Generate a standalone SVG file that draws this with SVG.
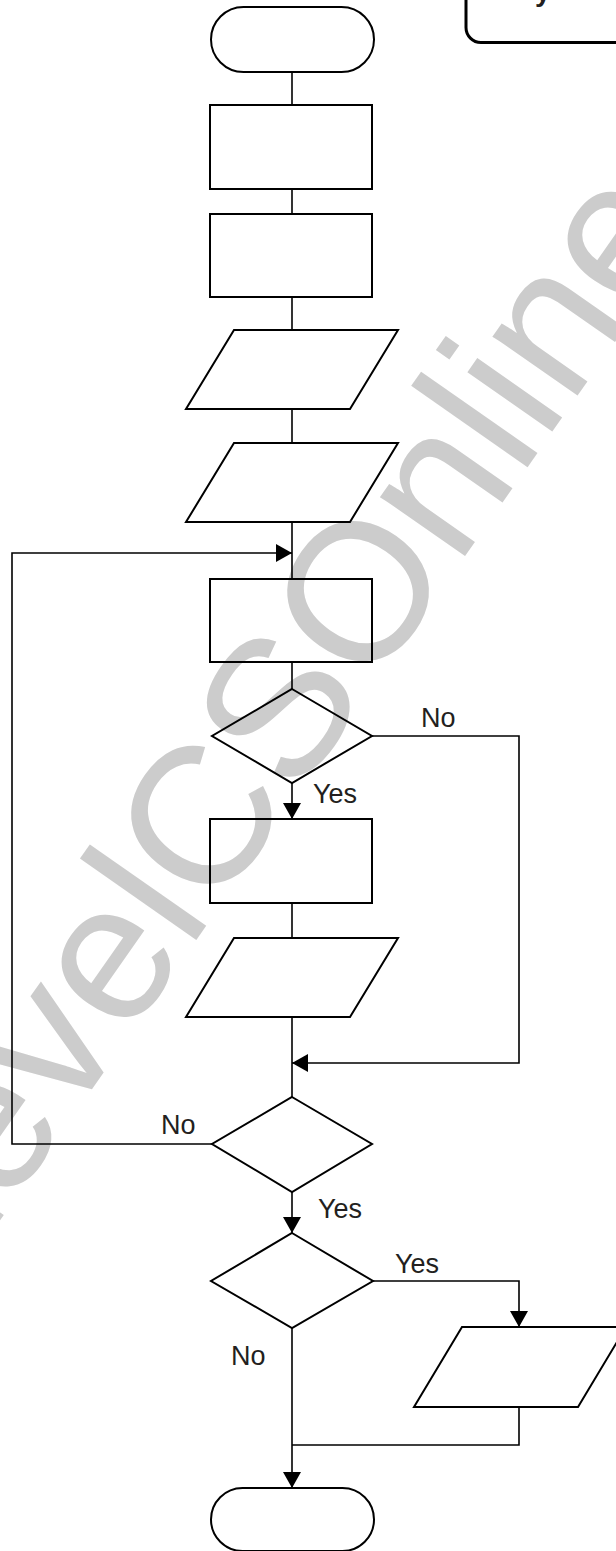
<svg xmlns="http://www.w3.org/2000/svg" width="616" height="1551" viewBox="0 0 616 1551">
<style>
.wm{font-family:"Liberation Sans",Arial,sans-serif;font-size:196px;fill:#cccccc}
.shape{fill:none;stroke:#000;stroke-width:2}
.conn{fill:none;stroke:#000;stroke-width:1.6}
.lbl{font-family:"Liberation Sans",Arial,sans-serif;font-size:27px;fill:#231f20}
.key{fill:none;stroke:#000;stroke-width:3}
.keytxt{font-family:"Liberation Sans",Arial,sans-serif;font-size:28px;font-weight:bold;fill:#231f20}
</style>
<defs>
<marker id="arr" viewBox="0 0 16 18" refX="16" refY="9" markerWidth="16" markerHeight="18" markerUnits="userSpaceOnUse" orient="auto">
<path d="M0,0 L16,9 L0,18 z" fill="#000"/>
</marker>
</defs>
<rect width="616" height="1551" fill="#fff"/>
<text class="wm" transform="translate(-55,1299) rotate(-55)">LevelCSOnline</text>
<g id="key">
<rect class="key" x="466" y="-20" width="200" height="62.5" rx="15"/>
<text class="keytxt" x="535" y="1">y</text>
</g>
<g id="start"><rect class="shape" x="211" y="7" width="163" height="65" rx="32.5"/></g>
<g id="process1"><rect class="shape" x="210" y="105" width="162" height="84"/></g>
<g id="process2"><rect class="shape" x="210" y="214" width="162" height="83"/></g>
<g id="io1"><polygon class="shape" points="234,330 398,330 350,409 186,409"/></g>
<g id="io2"><polygon class="shape" points="234,443 398,443 350,522 186,522"/></g>
<g id="process3"><rect class="shape" x="210" y="579" width="162" height="83"/></g>
<g id="decision1"><polygon class="shape" points="292,689 372,736 292,783 212,736"/></g>
<g id="process4"><rect class="shape" x="210" y="819" width="162" height="84"/></g>
<g id="io3"><polygon class="shape" points="234,938 398,938 350,1017 186,1017"/></g>
<g id="decision2"><polygon class="shape" points="292,1097 372,1144 292,1192 212,1144"/></g>
<g id="decision3"><polygon class="shape" points="292,1233 373,1281 292,1328 211,1281"/></g>
<g id="io4"><polygon class="shape" points="462,1327 626,1327 578,1407 414,1407"/></g>
<g id="end"><rect class="shape" x="211" y="1488" width="163" height="63" rx="31.5"/></g>
<g id="connectors">
<path class="conn" d="M292,72 V105"/>
<path class="conn" d="M292,189 V214"/>
<path class="conn" d="M292,297 V330"/>
<path class="conn" d="M292,409 V443"/>
<path class="conn" d="M292,522 V579"/>
<path class="conn" d="M212,1144 H12 V553 H292" marker-end="url(#arr)"/>
<path class="conn" d="M292,662 V689"/>
<path class="conn" d="M292,783 V819" marker-end="url(#arr)"/>
<path class="conn" d="M292,903 V938"/>
<path class="conn" d="M292,1017 V1097"/>
<path class="conn" d="M372,736 H519 V1063 H292" marker-end="url(#arr)"/>
<path class="conn" d="M292,1192 V1233" marker-end="url(#arr)"/>
<path class="conn" d="M373,1281 H519 V1327" marker-end="url(#arr)"/>
<path class="conn" d="M292,1328 V1488" marker-end="url(#arr)"/>
<path class="conn" d="M519,1407 V1445 H292"/>
</g>
<g id="labels">
<text class="lbl" x="421" y="727">No</text>
<text class="lbl" x="313" y="803">Yes</text>
<text class="lbl" x="161" y="1134">No</text>
<text class="lbl" x="318" y="1218">Yes</text>
<text class="lbl" x="395" y="1273">Yes</text>
<text class="lbl" x="231" y="1365">No</text>
</g>
</svg>
